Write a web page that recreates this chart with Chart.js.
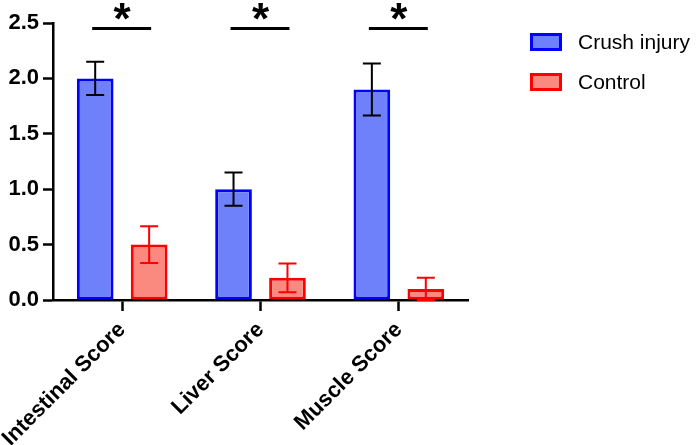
<!DOCTYPE html>
<html>
<head>
<meta charset="utf-8">
<script src="https://cdn.jsdelivr.net/npm/chart.js@4.4.1/dist/chart.umd.min.js"></script>
<style>
  html, body { margin: 0; padding: 0; background: #fff; }
  #wrap { width: 699px; height: 445px; position: relative; }
</style>
</head>
<body>
<div id="wrap"><canvas id="scoreChart"></canvas></div>
<script>
// Values (mean +/- error)
const categories = ["Intestinal Score", "Liver Score", "Muscle Score"];
const crushMeans = [2.0, 1.0, 1.9];
const crushErrors = [0.15, 0.15, 0.235];
const controlMeans = [0.5, 0.2, 0.1];
const controlErrors = [0.165, 0.13, 0.1];
const yTicks = [0, 0.5, 1.0, 1.5, 2.0, 2.5];
// significance bars above each pair
const sigLevels = [2.45, 2.45, 2.45];
const sigLabels = ["*", "*", "*"];

const FONT = "'Liberation Sans', Arial, sans-serif";

// Draw error bars on top of the bars
const errorBars = {
  id: "errorBars",
  afterDatasetsDraw(chart) {
    const ctx = chart.ctx;
    const y = chart.scales.y;
    chart.data.datasets.forEach((ds, di) => {
      const meta = chart.getDatasetMeta(di);
      meta.data.forEach((bar, i) => {
        const top = y.getPixelForValue(ds.data[i] + ds.errors[i]);
        const bot = y.getPixelForValue(ds.data[i] - ds.errors[i]);
        ctx.save();
        ctx.strokeStyle = ds.errorColor;
        ctx.lineWidth = 2;
        ctx.beginPath();
        ctx.moveTo(bar.x, top);
        ctx.lineTo(bar.x, bot);
        ctx.moveTo(bar.x - 9, top);
        ctx.lineTo(bar.x + 9, top);
        ctx.moveTo(bar.x - 9, bot);
        ctx.lineTo(bar.x + 9, bot);
        ctx.stroke();
        ctx.restore();
      });
    });
  }
};

// Significance line + asterisk between the two bars of a group
const sigMarks = {
  id: "sigMarks",
  afterDatasetsDraw(chart) {
    const ctx = chart.ctx;
    const y = chart.scales.y;
    const a = chart.getDatasetMeta(0).data;
    const b = chart.getDatasetMeta(1).data;
    sigLevels.forEach((lvl, i) => {
      const yy = y.getPixelForValue(lvl);
      ctx.save();
      ctx.strokeStyle = "#000";
      ctx.lineWidth = 3;
      ctx.beginPath();
      ctx.moveTo(a[i].x - 3, yy);
      ctx.lineTo(b[i].x + 2, yy);
      ctx.stroke();
      ctx.fillStyle = "#000";
      ctx.font = "bold 44px " + FONT;
      ctx.textAlign = "center";
      ctx.textBaseline = "alphabetic";
      ctx.fillText(sigLabels[i], (a[i].x + b[i].x) / 2, yy + 5);
      ctx.restore();
    });
  }
};

// Legend to the right of the plot
const sideLegend = {
  id: "sideLegend",
  afterDraw(chart) {
    const ctx = chart.ctx;
    const left = chart.chartArea.right + 62;
    chart.data.datasets.forEach((ds, i) => {
      const top = 33 + i * 40;
      ctx.save();
      ctx.fillStyle = ds.backgroundColor;
      ctx.fillRect(left, top, 32, 18);
      ctx.strokeStyle = ds.borderColor;
      ctx.lineWidth = 3;
      ctx.strokeRect(left + 1.5, top + 1.5, 29, 15);
      ctx.fillStyle = "#000";
      ctx.font = "21px " + FONT;
      ctx.textBaseline = "middle";
      ctx.fillText(ds.label, left + 48, top + 10);
      ctx.restore();
    });
  }
};

new Chart(document.getElementById("scoreChart"), {
  type: "bar",
  data: {
    labels: categories,
    datasets: [
      {
        label: "Crush injury",
        data: crushMeans,
        errors: crushErrors,
        errorColor: "#000000",
        backgroundColor: "#6f80fb",
        borderColor: "#0000ff",
        borderWidth: 3,
        borderSkipped: false
      },
      {
        label: "Control",
        data: controlMeans,
        errors: controlErrors,
        errorColor: "#ff0000",
        backgroundColor: "#fa8a80",
        borderColor: "#ff0000",
        borderWidth: 3,
        borderSkipped: false
      }
    ]
  },
  options: {
    responsive: true,
    maintainAspectRatio: false,
    animation: false,
    categoryPercentage: 0.78,
    barPercentage: 0.68,
    layout: { padding: { top: 23, right: 231, left: 0, bottom: 0 } },
    plugins: {
      legend: { display: false },
      tooltip: { enabled: false }
    },
    scales: {
      x: {
        offset: true,
        grid: { offset: false, drawOnChartArea: false, tickLength: 11, tickWidth: 2.5, color: "#000" },
        border: { color: "#000", width: 2.5 },
        ticks: {
          font: { family: FONT, size: 22, weight: "bold" },
          color: "#000",
          minRotation: 45,
          maxRotation: 45,
          padding: 6
        },
        afterFit: s => { s.height = 145; s.paddingLeft = 0; s.paddingRight = 0; }
      },
      y: {
        min: 0,
        max: 2.5,
        afterBuildTicks: s => { s.ticks = yTicks.map(v => ({ value: v })); },
        grid: { drawOnChartArea: false, tickLength: 10, tickWidth: 2.5, color: "#000" },
        border: { color: "#000", width: 2.5 },
        ticks: {
          font: { family: FONT, size: 22, weight: "bold" },
          color: "#000",
          padding: 4,
          callback: v => Number(v).toFixed(1)
        },
        afterFit: s => { s.width = 53; }
      }
    }
  },
  plugins: [errorBars, sigMarks, sideLegend]
});
</script>
</body>
</html>
